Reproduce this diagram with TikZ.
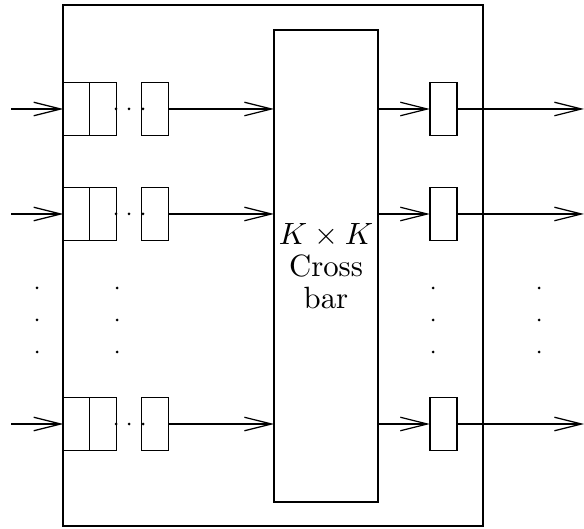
\documentclass[tikz,border=0pt]{standalone}
\usetikzlibrary{arrows.meta}
\tikzset{
  cell/.style={draw, inner sep=0pt, outer sep=0pt, minimum width=8.6pt, minimum height=17.2pt},
  obox/.style={cell, minimum width=8.8pt},
  arr/.style={-{Straight Barb[length=8.8pt,width=4.4pt]}},
}
\begin{document}
\begin{tikzpicture}[x=0.325pt, y=-0.325pt, thin]
  \useasboundingbox (0,0) rectangle (584,529);
  % frame and crossbar
  \node[draw, inner sep=0pt, outer sep=0pt, minimum width=136.5pt, minimum height=169.3pt] (frame) at (273,265.5) {};
  \node[draw, inner sep=0pt, outer sep=0pt, minimum width=33.8pt, minimum height=153.4pt, align=center,
        font=\fontsize{10}{10.5}\selectfont] (xbar) at (326,266) {$K\times K$\\Cross\\bar};
  % ports
  \foreach \r/\y in {1/109,2/214,3/424} {
    \node[cell] (qa\r) at (76.5,\y) {};
    \node[cell] (qb\r) at (103,\y) {};
    \node[cell] (qc\r) at (155,\y) {};
    \node[obox] (ob\r) at (443.5,\y) {};
    \coordinate (in\r) at (11,\y);
    \coordinate (out\r) at (584,\y);
    \draw[arr] (in\r) -- (qa\r.west);
    \draw[arr] (qc\r.east) -- (xbar.west |- qc\r);
    \draw[arr] (xbar.east |- ob\r) -- (ob\r.west);
    \draw[arr] (ob\r.east) -- (out\r);
    \foreach \x in {116,129,143} \fill (\x,\y) circle (1.5);
  }
  % vertical dots
  \foreach \x in {37,117,433,539}
    \foreach \y in {288,320,352} \fill (\x,\y) circle (1.5);
\end{tikzpicture}
\end{document}
